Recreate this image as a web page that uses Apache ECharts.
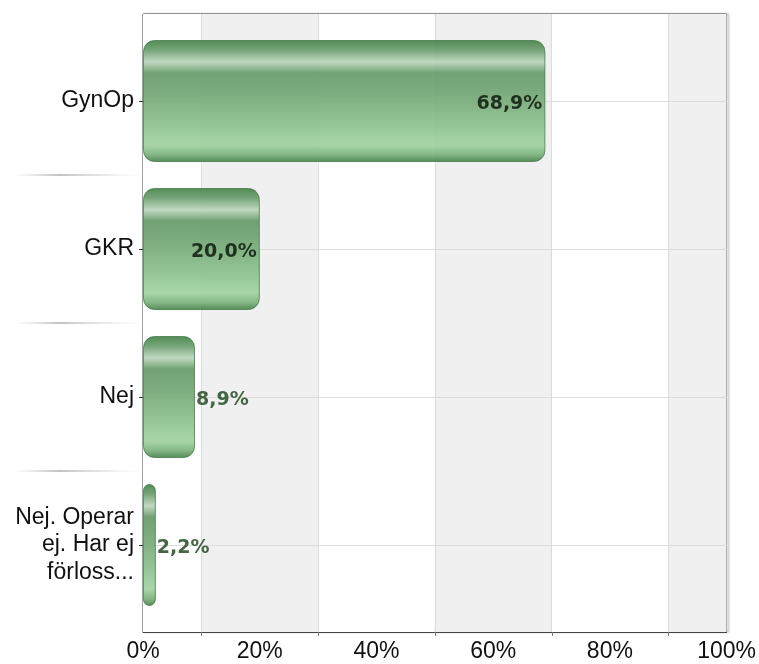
<!DOCTYPE html>
<html>
<head>
<meta charset="utf-8">
<script src="https://cdn.jsdelivr.net/npm/echarts@6/dist/echarts.min.js"></script>
<style>
  html, body { margin: 0; padding: 0; background: #fff; }
  #chart { width: 759px; height: 664px; }
</style>
</head>
<body>
<div id="chart"></div>
<script>
// data
var categories = ["GynOp", "GKR", "Nej", "Nej. Operar\nej. Har ej\nförloss..."];
var percents = [68.9, 20.0, 8.9, 2.2];
var axisMax = 100;
var labelStep = 20;
var gridStep = 10;

var chart = echarts.init(document.getElementById("chart"));

var barGradient = new echarts.graphic.LinearGradient(0, 0, 0, 1, [
  { offset: 0, color: "#468249" },
  { offset: 0.08, color: "#6b9d6e" },
  { offset: 0.18, color: "#bcd6bc" },
  { offset: 0.27, color: "#689b6b" },
  { offset: 0.4, color: "#70a373" },
  { offset: 0.72, color: "#90c491" },
  { offset: 0.86, color: "#a2d3a2" },
  { offset: 0.94, color: "#7bb17c" },
  { offset: 1, color: "#47834b" },
]);

var sepGradient = new echarts.graphic.LinearGradient(0, 0, 1, 0, [
  { offset: 0, color: "rgba(210,210,210,0)" },
  { offset: 0.35, color: "rgba(195,195,195,1)" },
  { offset: 1, color: "rgba(225,225,225,0)" },
]);

function fmtPct(v) {
  return v.toFixed(1).replace(".", ",") + "%";
}

var barData = percents.map(function (v) {
  var inside = v > 12;
  return {
    value: v,
    label: {
      position: inside ? "insideRight" : "right",
      distance: inside ? 3 : 1,
      color: inside ? "#172817" : "#365a36",
    },
  };
});

var option = {
  animation: false,
  grid: [
    // frame, bands, vertical lines, x labels
    {
      left: 143, right: 32, top: 14, bottom: 32,
      show: true, borderColor: "#444", borderWidth: 1,
      shadowColor: "rgba(0,0,0,0.35)", shadowBlur: 2, shadowOffsetX: 2,
    },
    // tick marks at 10, 30, ... 90
    { left: 201.4, right: 90.4, top: 14, bottom: 32 },
    // bars
    { left: 143, right: 32, top: 27, bottom: 45 },
    // separators and horizontal grid lines
    { left: 143, right: 32, top: 101, bottom: 119 },
  ],
  xAxis: [
    {
      gridIndex: 0,
      type: "value",
      min: 0,
      max: axisMax,
      interval: gridStep,
      axisLine: { show: true, lineStyle: { color: "#444" } },
      axisTick: { show: false },
      axisLabel: {
        margin: 8,
        fontSize: 23,
        fontFamily: "Liberation Sans",
        color: "#111",
        formatter: function (v) {
          return v % labelStep === 0 ? v + "%" : "";
        },
      },
      splitLine: {
        show: true,
        lineStyle: { color: ["rgba(0,0,0,0)", "#dcdcdc"], width: 1 },
      },
      splitArea: {
        show: true,
        areaStyle: { color: ["#ffffff", "#f0f0f0", "#f0f0f0", "#ffffff"] },
      },
    },
    {
      gridIndex: 1,
      type: "value",
      min: 10,
      max: 90,
      interval: 20,
      axisLine: { show: false },
      axisLabel: { show: false },
      splitLine: { show: false },
      axisTick: { show: true, length: 4, lineStyle: { color: "#777" } },
    },
    {
      gridIndex: 2,
      type: "value",
      min: 0,
      max: axisMax,
      show: false,
    },
    {
      gridIndex: 3,
      type: "value",
      min: 0,
      max: axisMax,
      show: false,
    },
  ],
  yAxis: [
    { gridIndex: 0, type: "value", show: false },
    { gridIndex: 1, type: "value", show: false },
    {
      gridIndex: 2,
      type: "category",
      inverse: true,
      data: categories,
      axisLine: { show: false },
      axisTick: {
        show: true,
        alignWithLabel: true,
        length: 4,
        lineStyle: { color: "#333" },
      },
      axisLabel: {
        margin: 9,
        fontSize: 23,
        lineHeight: 27.5,
        fontFamily: "Liberation Sans",
        color: "#111",
        align: "right",
      },
      splitLine: { show: false },
    },
    {
      gridIndex: 3,
      type: "category",
      inverse: true,
      offset: 6,
      z: 1,
      data: categories.slice(1),
      axisLine: { show: false },
      axisLabel: { show: false },
      axisTick: {
        show: true,
        alignWithLabel: true,
        length: 127,
        lineStyle: { color: sepGradient, width: 2 },
      },
      splitLine: { show: true, lineStyle: { color: "#dcdcdc", width: 1 } },
    },
  ],
  series: [
    {
      type: "bar",
      z: 3,
      xAxisIndex: 2,
      yAxisIndex: 2,
      barWidth: 122,
      data: barData,
      itemStyle: {
        color: barGradient,
        borderRadius: 11,
        borderColor: "rgba(62,118,66,0.8)",
        borderWidth: 1,
        opacity: 0.93,
      },
      label: {
        show: true,
        fontFamily: "DejaVu Sans",
        fontWeight: "bold",
        fontSize: 19,
        offset: [0, 3],
        formatter: function (p) {
          return fmtPct(p.value);
        },
      },
    },
  ],
};

chart.setOption(option);
window.addEventListener("resize", function () {
  chart.resize();
});
</script>
</body>
</html>
